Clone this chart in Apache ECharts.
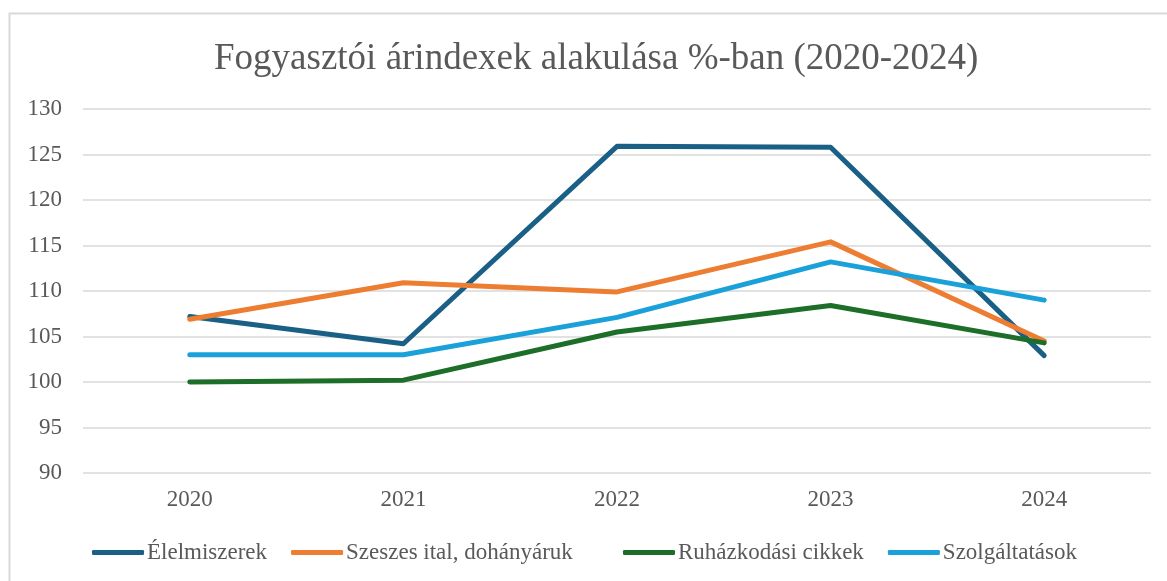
<!DOCTYPE html>
<html>
<head>
<meta charset="utf-8">
<script src="https://cdn.jsdelivr.net/npm/echarts@6/dist/echarts.min.js"></script>
<style>
  html, body { margin: 0; padding: 0; background: #fff; }
  #chart { width: 1167px; height: 581px; }
</style>
</head>
<body>
<div id="chart"></div>
<script>
// adatok
var years = ['2020', '2021', '2022', '2023', '2024'];
var elelmiszerek = [107.2, 104.2, 125.9, 125.8, 102.9];
var szeszes = [106.9, 110.9, 109.9, 115.4, 104.5];
var ruhazkodasi = [100.0, 100.2, 105.5, 108.4, 104.3];
var szolgaltatasok = [103.0, 103.0, 107.1, 113.2, 109.0];
var yTicks = [90, 95, 100, 105, 110, 115, 120, 125, 130];

var FONT = '"Liberation Serif", "Times New Roman", serif';
var TXT = '#595959';

var seriesDefs = [
    { name: 'Élelmiszerek', data: elelmiszerek, color: '#1A5F86' },
    { name: 'Szeszes ital, dohányáruk', data: szeszes, color: '#ED7D31' },
    { name: 'Ruházkodási cikkek', data: ruhazkodasi, color: '#1D6E28' },
    { name: 'Szolgáltatások', data: szolgaltatasok, color: '#1BA1DA' }
];
var names = seriesDefs.map(function (s) { return s.name; });

// Excel-szerű jelmagyarázat: két blokk, köztük nagyobb hézag
function legendPart(left, items) {
    return {
        bottom: 12,
        left: left,
        itemWidth: 52,
        itemHeight: 5,
        itemGap: 24,
        icon: 'roundRect',
        data: items,
        textStyle: { fontFamily: FONT, fontSize: 23, color: TXT, padding: [0, 0, 0, -2] }
    };
}

var myChart = echarts.init(document.getElementById('chart'));
myChart.setOption({
    animation: false,
    backgroundColor: '#fff',
    title: {
        text: 'Fogyasztói árindexek alakulása %-ban (2020-2024)',
        left: 209,
        top: 36,
        textStyle: { fontFamily: FONT, fontSize: 37, fontWeight: 'normal', color: TXT }
    },
    // külső keret
    graphic: [{
        type: 'rect',
        shape: { x: 9.5, y: 13.5, width: 1180, height: 600 },
        style: { fill: 'none', stroke: '#D9D9D9', lineWidth: 2 },
        silent: true
    }],
    legend: [
        legendPart(87, names.slice(0, 2)),
        legendPart(618, names.slice(2))
    ],
    grid: {
        left: 83,
        right: 16,
        top: 109,
        bottom: 108,
        containLabel: false
    },
    xAxis: {
        type: 'category',
        data: years,
        boundaryGap: true,
        axisLine: { show: false },
        axisTick: { show: false },
        axisLabel: { fontFamily: FONT, fontSize: 23, color: TXT, margin: 15 }
    },
    yAxis: {
        type: 'value',
        min: yTicks[0],
        max: yTicks[yTicks.length - 1],
        interval: 5,
        axisLine: { show: false },
        axisTick: { show: false },
        axisLabel: { fontFamily: FONT, fontSize: 23, color: TXT, margin: 21 },
        splitLine: { lineStyle: { color: '#D9D9D9', width: 1.5 } }
    },
    series: seriesDefs.map(function (s) {
        return {
            name: s.name,
            type: 'line',
            data: s.data,
            symbol: 'none',
            color: s.color,
            lineStyle: { width: 5, color: s.color, cap: 'round', join: 'round' }
        };
    })
});
</script>
</body>
</html>
